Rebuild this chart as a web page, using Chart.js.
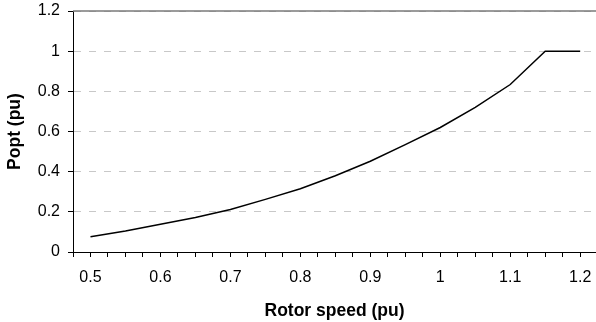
<!DOCTYPE html>
<html>
<head>
<meta charset="utf-8">
<script src="https://cdn.jsdelivr.net/npm/chart.js@4"></script>
<style>
  html, body { margin: 0; padding: 0; background: #fff; }
  #wrap { width: 596px; height: 322px; }
</style>
</head>
<body>
<div id="wrap"><canvas id="myChart"></canvas></div>
<script>
// rotor speed (pu) and optimal power (pu)
const velocidad = [0.5, 0.55, 0.6, 0.65, 0.7, 0.75, 0.8, 0.85, 0.9, 0.95, 1.0, 1.05, 1.1, 1.15, 1.2];
const potencia = [0.076, 0.105, 0.138, 0.172, 0.212, 0.262, 0.315, 0.38, 0.452, 0.535, 0.62, 0.72, 0.834, 1.0, 1.0];
const ticksY = [0, 0.2, 0.4, 0.6, 0.8, 1, 1.2];
const tituloX = "Rotor speed (pu)";
const tituloY = "Popt (pu)";

const puntos = velocidad.map((v, i) => ({ x: v, y: potencia[i] }));
const fuente = "'Liberation Sans', Arial, sans-serif";

// borde superior gris del area del grafico
const bordeSuperior = {
    id: "bordeSuperior",
    afterDraw(chart) {
        const a = chart.chartArea;
        const c = chart.ctx;
        c.save();
        c.strokeStyle = "#7a7a7a";
        c.lineWidth = 1.5;
        c.beginPath();
        c.moveTo(a.left, a.top);
        c.lineTo(a.right, a.top);
        c.stroke();
        c.restore();
    }
};

const ctx = document.getElementById("myChart");
const myChart = new Chart(ctx, {
    type: "line",
    data: {
        datasets: [{
            data: puntos,
            borderColor: "#000",
            borderWidth: 1.5,
            pointRadius: 0,
            tension: 0,
            fill: false
        }]
    },
    options: {
        responsive: true,
        maintainAspectRatio: false,
        animation: false,
        layout: { padding: { top: 11, right: 0, left: 0, bottom: 0 } },
        plugins: { legend: { display: false }, tooltip: { enabled: false } },
        scales: {
            x: {
                type: "linear",
                min: 0.475,
                max: 1.2226,
                afterBuildTicks(scale) {
                    scale.ticks = scale.ticks.filter(t => Math.abs(t.value / 0.025 - Math.round(t.value / 0.025)) < 1e-6);
                },
                afterFit(scale) {
                    scale.height = 70;
                    scale.paddingLeft = 0;
                    scale.paddingRight = 0;
                },
                ticks: {
                    stepSize: 0.025,
                    includeBounds: false,
                    autoSkip: false,
                    maxRotation: 0,
                    padding: 11,
                    color: "#000",
                    font: { family: fuente, size: 16 },
                    callback: (v) => {
                        const d = v * 10;
                        if (Math.abs(d - Math.round(d)) < 1e-6) return String(Math.round(d) / 10);
                        return "";
                    }
                },
                grid: { drawOnChartArea: false, tickLength: 5, tickColor: "#000", tickWidth: 1 },
                border: { color: "#000", width: 1 },
                title: {
                    display: true,
                    text: tituloX,
                    color: "#000",
                    font: { family: fuente, size: 17.5, weight: "bold", lineHeight: 1.2 },
                    padding: { top: 0, bottom: 0 }
                }
            },
            y: {
                min: 0,
                max: 1.2,
                afterBuildTicks(scale) {
                    scale.ticks = ticksY.map(v => ({ value: v }));
                },
                afterFit(scale) {
                    scale.width = 73;
                    scale.paddingTop = 0;
                    scale.paddingBottom = 0;
                },
                ticks: {
                    padding: 8,
                    color: "#000",
                    font: { family: fuente, size: 16 },
                    callback: (v) => String(v)
                },
                grid: { color: "#c8c8c8", lineWidth: 1, tickLength: 5, tickColor: "#000", tickWidth: 1 },
                border: { color: "#000", width: 1, dash: [7, 8] },
                title: {
                    display: true,
                    text: tituloY,
                    color: "#000",
                    font: { family: fuente, size: 17.5, weight: "bold", lineHeight: 1.2 },
                    padding: { top: 5, bottom: 0 }
                }
            }
        }
    },
    plugins: [bordeSuperior]
});
</script>
</body>
</html>
